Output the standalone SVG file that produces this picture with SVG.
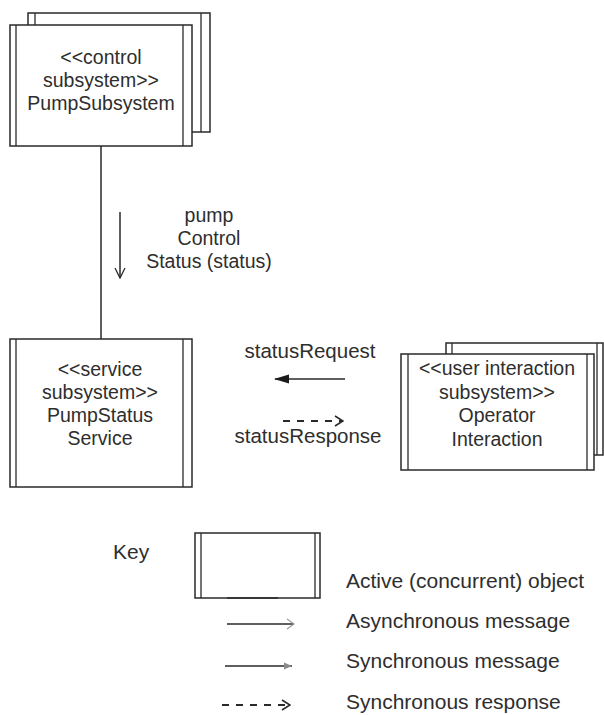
<svg xmlns="http://www.w3.org/2000/svg" width="604" height="715" viewBox="0 0 604 715">
  <defs>
    <style>
      .box { fill: #ffffff; stroke: #2a2a2a; stroke-width: 1.5; }
      .bar { stroke: #2a2a2a; stroke-width: 1.3; fill: none; }
      .line { stroke: #2a2a2a; stroke-width: 1.5; fill: none; }
      .dash { stroke: #2a2a2a; stroke-width: 1.8; fill: none; stroke-dasharray: 7,7; }
      .lbl { font-family: "Liberation Sans", Arial, sans-serif; font-size: 19.5px; fill: #2e2e2e; text-anchor: middle; }
      .msg { font-family: "Liberation Sans", Arial, sans-serif; font-size: 20.5px; fill: #2e2e2e; text-anchor: middle; }
      .key { font-family: "Liberation Sans", Arial, sans-serif; font-size: 21px; fill: #2e2e2e; }
    </style>
    <marker id="asyncHead" viewBox="0 0 12 12" refX="11" refY="6" markerWidth="12" markerHeight="12" markerUnits="userSpaceOnUse" orient="auto">
      <path d="M1,1 L11,6 L1,11" fill="none" stroke="#2a2a2a" stroke-width="1.3"/>
    </marker>
    <marker id="syncHead" viewBox="0 0 15 10" refX="14" refY="5" markerWidth="15" markerHeight="10" markerUnits="userSpaceOnUse" orient="auto">
      <path d="M0,0.5 L15,5 L0,9.5 Z" fill="#1a1a1a"/>
    </marker>
    <marker id="replyHead" viewBox="0 0 10 12" refX="9" refY="6" markerWidth="10" markerHeight="12" markerUnits="userSpaceOnUse" orient="auto">
      <path d="M1,1 L9,6 L1,11" fill="none" stroke="#2a2a2a" stroke-width="1.6"/>
    </marker>
    <marker id="keyAsyncHead" viewBox="0 0 10 12" refX="9" refY="6" markerWidth="10" markerHeight="12" markerUnits="userSpaceOnUse" orient="auto">
      <path d="M2,1 L9,6 L2,11" fill="none" stroke="#9a9a9a" stroke-width="1.2"/>
    </marker>
    <marker id="keySyncHead" viewBox="0 0 10 10" refX="9" refY="5" markerWidth="10" markerHeight="10" markerUnits="userSpaceOnUse" orient="auto">
      <path d="M1,1.5 L9,5 L1,8.5 Z" fill="#8a8a8a"/>
    </marker>
  </defs>

  <rect width="604" height="715" fill="#ffffff"/>

  <!-- connectors -->
  <g id="connectors">
    <!-- link between PumpSubsystem and PumpStatus Service -->
    <line class="line" x1="101" y1="146" x2="101" y2="339"/>
    <!-- pumpControlStatus (async, downward) -->
    <line class="line" x1="120" y1="212" x2="120" y2="278" stroke-width="1.3" marker-end="url(#asyncHead)"/>
    <text class="lbl" x="209" y="222">pump</text>
    <text class="lbl" x="209" y="245">Control</text>
    <text class="lbl" x="209" y="268">Status (status)</text>
    <!-- statusRequest (sync, leftward) -->
    <text class="msg" x="310" y="358">statusRequest</text>
    <line class="line" x1="345" y1="379" x2="275" y2="379" stroke-width="2" marker-end="url(#syncHead)"/>
    <!-- statusResponse (reply, rightward) -->
    <line class="dash" x1="283" y1="421" x2="343" y2="421" marker-end="url(#replyHead)"/>
    <text class="msg" x="308" y="443">statusResponse</text>
  </g>

  <!-- PumpSubsystem: multi-instance active object -->
  <g id="pumpSubsystem">
    <rect class="box" x="28" y="13" width="182" height="119"/>
    <line class="bar" x1="35" y1="13" x2="35" y2="132"/>
    <line class="bar" x1="201" y1="13" x2="201" y2="132"/>
    <rect class="box" x="10" y="25" width="182" height="121"/>
    <line class="bar" x1="16" y1="25" x2="16" y2="146"/>
    <line class="bar" x1="183" y1="25" x2="183" y2="146"/>
    <text class="lbl" x="101" y="64">&lt;&lt;control</text>
    <text class="lbl" x="101" y="87">subsystem&gt;&gt;</text>
    <text class="lbl" x="101" y="110">PumpSubsystem</text>
  </g>

  <!-- PumpStatus Service -->
  <g id="pumpStatusService">
    <rect class="box" x="10" y="339" width="182" height="148"/>
    <line class="bar" x1="16" y1="339" x2="16" y2="487"/>
    <line class="bar" x1="183" y1="339" x2="183" y2="487"/>
    <text class="lbl" x="100" y="376">&lt;&lt;service</text>
    <text class="lbl" x="100" y="399">subsystem&gt;&gt;</text>
    <text class="lbl" x="100" y="422">PumpStatus</text>
    <text class="lbl" x="100" y="445">Service</text>
  </g>

  <!-- Operator Interaction: multi-instance active object -->
  <g id="operatorInteraction">
    <rect class="box" x="446" y="343" width="157" height="112"/>
    <line class="bar" x1="452" y1="343" x2="452" y2="455"/>
    <line class="bar" x1="597" y1="343" x2="597" y2="455"/>
    <rect class="box" x="401" y="354" width="193" height="116"/>
    <line class="bar" x1="408" y1="354" x2="408" y2="470"/>
    <line class="bar" x1="587" y1="354" x2="587" y2="470"/>
    <text class="lbl" x="497" y="375">&lt;&lt;user interaction</text>
    <text class="lbl" x="497" y="399">subsystem&gt;&gt;</text>
    <text class="lbl" x="497" y="422">Operator</text>
    <text class="lbl" x="497" y="446">Interaction</text>
  </g>

  <!-- Key -->
  <g id="key">
    <text class="key" x="113" y="559">Key</text>
    <rect class="box" x="195" y="533" width="125" height="65"/>
    <line class="bar" x1="201" y1="533" x2="201" y2="598"/>
    <line class="bar" x1="315" y1="533" x2="315" y2="598"/>
    <line class="line" x1="227" y1="598" x2="278" y2="598" stroke-width="2.2"/>
    <text class="key" x="346" y="588">Active (concurrent) object</text>

    <line class="line" x1="227" y1="624" x2="294" y2="624" stroke-width="2" marker-end="url(#keyAsyncHead)"/>
    <text class="key" x="346" y="628">Asynchronous message</text>

    <line class="line" x1="225" y1="666" x2="292" y2="666" stroke-width="1.6" marker-end="url(#keySyncHead)"/>
    <text class="key" x="346" y="668">Synchronous message</text>

    <line class="dash" x1="222" y1="705" x2="290" y2="705" stroke="#666666" marker-end="url(#replyHead)"/>
    <text class="key" x="346" y="709">Synchronous response</text>
  </g>
</svg>
